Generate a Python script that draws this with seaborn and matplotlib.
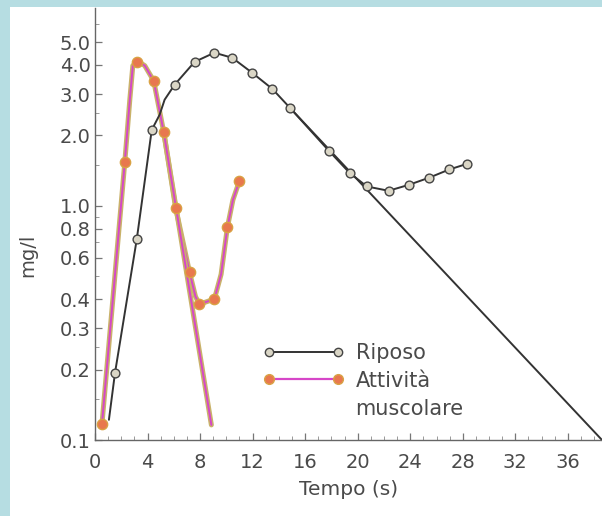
import matplotlib
matplotlib.use('Agg')
import matplotlib.pyplot as plt
import seaborn as sns
import pandas as pd
import numpy as np
from matplotlib.lines import Line2D
from matplotlib.patches import Rectangle
from matplotlib.ticker import FixedLocator, NullFormatter

# Riposo (rest) - curve vertices and measured points
rest_line_t = [1.06, 1.52, 3.18, 4.32, 4.92, 5.3, 6.06, 7.58, 9.09, 10.45, 11.97,
               13.5, 14.85, 17.8, 19.4, 20.7, 22.35, 23.9, 25.45, 26.97, 28.3]
rest_line_v = [0.122, 0.193, 0.72, 2.11, 2.45, 2.84, 3.29, 4.12, 4.51, 4.29, 3.70,
               3.16, 2.62, 1.72, 1.38, 1.21, 1.16, 1.23, 1.32, 1.43, 1.51]
rest_pts_t = [1.52, 3.18, 4.32, 6.06, 7.58, 9.09, 10.45, 11.97, 13.5, 14.85,
              17.8, 19.4, 20.7, 22.35, 23.9, 25.45, 26.97, 28.3]
rest_pts_v = [0.193, 0.72, 2.11, 3.29, 4.12, 4.51, 4.29, 3.70, 3.16, 2.62,
              1.72, 1.38, 1.21, 1.16, 1.23, 1.32, 1.43, 1.51]
rest_extrap_t = [14.85, 38.6]
rest_extrap_v = [2.62, 0.1]

# Attivita muscolare (exercise)
act_line_t = [0.53, 2.27, 2.65, 2.88, 3.26, 3.79, 4.47, 5.23, 6.14, 7.2, 7.65,
              7.95, 9.09, 9.6, 10.08, 10.5, 11.0]
act_line_v = [0.117, 1.54, 2.84, 3.97, 4.15, 3.97, 3.42, 2.07, 0.98, 0.52, 0.41,
              0.38, 0.40, 0.51, 0.81, 1.06, 1.28]
act_pts_t = [0.53, 2.27, 3.18, 4.47, 5.23, 6.14, 7.2, 7.95, 9.09, 10.08, 11.0]
act_pts_v = [0.117, 1.54, 4.12, 3.42, 2.07, 0.98, 0.52, 0.38, 0.40, 0.81, 1.28]
act_extrap_t = [5.23, 8.86]
act_extrap_v = [2.07, 0.116]

y_ticks = [0.1, 0.2, 0.3, 0.4, 0.6, 0.8, 1.0, 2.0, 3.0, 4.0, 5.0]
y_minor = [0.15, 0.25, 0.5, 0.7, 0.9, 1.5, 2.5, 6.0]
x_ticks = [0, 4, 8, 12, 16, 20, 24, 28, 32, 36]

sns.set_style('ticks')
plt.rcParams['font.family'] = ['DejaVu Sans']

fig = plt.figure(figsize=(6.02, 5.16), dpi=100, facecolor='white')
# blue page border (left and top strips)
fig.patches.append(Rectangle((0, 0), 10 / 602, 1, transform=fig.transFigure,
                             facecolor='#b6dde2', edgecolor='none', zorder=-10))
fig.patches.append(Rectangle((0, (516 - 7) / 516), 1, 7 / 516, transform=fig.transFigure,
                             facecolor='#b6dde2', edgecolor='none', zorder=-10))
ax = fig.add_axes([95 / 602, 76 / 516, 507 / 602, 432 / 516])
ax.set_facecolor('none')

pink = '#d646c8'
tan = '#c9b26a'
dark = '#333333'

# exercise curve: tan underlay + magenta line (printed misregistration look)
for t, v in [(act_line_t, act_line_v), (act_extrap_t, act_extrap_v)]:
    sns.lineplot(x=t, y=v, sort=False, estimator=None, ax=ax, color=tan, lw=3.6)
    sns.lineplot(x=t, y=v, sort=False, estimator=None, ax=ax, color=pink, lw=1.4)
sns.scatterplot(x=act_pts_t, y=act_pts_v, ax=ax, s=55, color='#e8784e',
                edgecolor='#d9a244', linewidth=1.0, zorder=5)

# rest curve
sns.lineplot(x=rest_line_t, y=rest_line_v, sort=False, estimator=None, ax=ax, color=dark, lw=1.4)
sns.lineplot(x=rest_extrap_t, y=rest_extrap_v, sort=False, estimator=None, ax=ax, color=dark, lw=1.4)
sns.scatterplot(x=rest_pts_t, y=rest_pts_v, ax=ax, s=40, color='#dad6c6',
                edgecolor='#444444', linewidth=1.0, zorder=6)

ax.set_yscale('log')
ax.set_ylim(0.1, 7.0)
ax.set_xlim(0, 38.6)
ax.yaxis.set_major_locator(FixedLocator(y_ticks))
ax.set_yticklabels([f'{v:.1f}' for v in y_ticks])
ax.yaxis.set_minor_locator(FixedLocator(y_minor))
ax.yaxis.set_minor_formatter(NullFormatter())
ax.set_xticks(x_ticks)
ax.set_xticks(np.arange(0, 39, 1), minor=True)

for s in ['top', 'right']:
    ax.spines[s].set_visible(False)
for s in ['left', 'bottom']:
    ax.spines[s].set_color('#666666')
    ax.spines[s].set_linewidth(1.0)

ax.tick_params(axis='both', which='major', direction='in', length=5, width=0.9,
               color='#777777', labelsize=14, labelcolor='#4a4a4a')
ax.tick_params(axis='both', which='minor', direction='in', length=3, width=0.7, color='#999999')
ax.tick_params(axis='x', which='major', pad=9)
ax.tick_params(axis='y', which='major', pad=3)

ax.set_xlabel('Tempo (s)', fontsize=14.5, color='#4a4a4a', labelpad=6)
ax.set_ylabel('mg/l', fontsize=14, color='#4a4a4a')
ax.yaxis.set_label_coords(-0.114, 0.428)

handles = [
    Line2D([], [], color=dark, lw=1.4, marker='o', ms=6, mfc='#dad6c6', mec='#444444', mew=1.0),
    Line2D([], [], color=pink, lw=1.6, marker='o', ms=7, mfc='#e8784e', mec='#d9a244', mew=1.0),
    Line2D([], [], linestyle='none', marker=None),
]
leg = ax.legend(handles, ['Riposo', 'Attività', 'muscolare'], loc='upper left',
                bbox_to_anchor=(0.331, 0.225), frameon=False, numpoints=2,
                handlelength=3.9, handletextpad=0.55, borderpad=0, borderaxespad=0,
                labelspacing=0.38, fontsize=15)
for txt in leg.get_texts():
    txt.set_color('#4a4a4a')

fig.savefig('out.png', dpi=100)
